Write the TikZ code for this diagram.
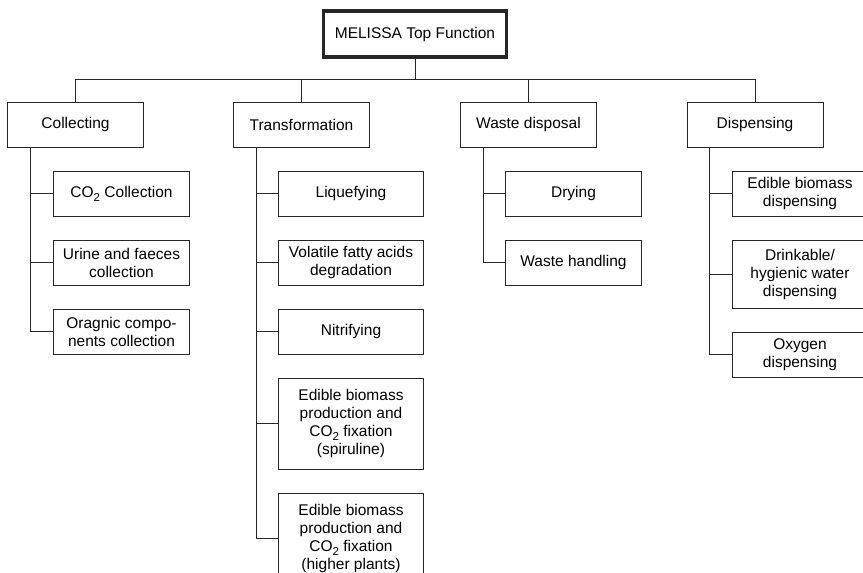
\documentclass[tikz,border=0pt]{standalone}
\usepackage{fontspec}
\setmainfont{Liberation Sans}
\usepackage{tikz}
\usetikzlibrary{positioning}

\newcommand{\cotwo}{CO\raisebox{-4pt}{\fontsize{11.5}{12}\selectfont 2}}

\tikzset{
  fbox/.style={draw=black!85, line width=1pt, minimum width=136pt, minimum height=45pt,
    align=center, inner sep=2pt, font=\fontsize{15.5}{18}\selectfont},
  topbox/.style={fbox, line width=3.5pt, minimum width=183pt, minimum height=46pt},
  widebox/.style={minimum width=145pt},
  link/.style={draw=black!85, line width=1pt},
}

\begin{document}
\begin{tikzpicture}[x=1pt, y=-1pt, node distance=23pt]
    \useasboundingbox (0,0) rectangle (863,573);
    \clip (0,0) rectangle (863,573);

    % Top function
    \node[topbox] (top) at (415,34) {MELISSA Top Function};
    \coordinate (bus) at (0,79);

    % Main functions
    \node[fbox] (coll)  at (75.5,124.5)  {Collecting};
    \node[fbox] (trans) at (301.5,124.5) {Transformation};
    \node[fbox] (waste) at (528.5,124.5) {Waste disposal};
    \node[fbox] (disp)  at (755,124.5)   {Dispensing};

    % Collecting
    \node[fbox, below=23pt of coll.south west, anchor=north west, xshift=46pt] (coll1) {\cotwo{} Collection};
    \node[fbox, below=of coll1] (coll2) {Urine and faeces\\collection};
    \node[fbox, below=of coll2] (coll3) {Oragnic compo-\\nents collection};

    % Transformation
    \node[fbox, widebox, below=23pt of trans.south west, anchor=north west, xshift=45pt] (trans1) {Liquefying};
    \node[fbox, widebox, below=of trans1] (trans2) {Volatile fatty acids\\degradation};
    \node[fbox, widebox, below=of trans2] (trans3) {Nitrifying};
    \node[fbox, widebox, minimum height=91pt, below=of trans3] (trans4) {Edible biomass\\production and\\\cotwo{} fixation\\(spiruline)};
    \node[fbox, widebox, minimum height=91pt, below=of trans4] (trans5) {Edible biomass\\production and\\\cotwo{} fixation\\(higher plants)};

    % Waste disposal
    \node[fbox, below=23pt of waste.south west, anchor=north west, xshift=45pt] (waste1) {Drying};
    \node[fbox, below=of waste1] (waste2) {Waste handling};

    % Dispensing
    \node[fbox, below=23pt of disp.south west, anchor=north west, xshift=45pt] (disp1) {Edible biomass\\dispensing};
    \node[fbox, minimum height=68pt, below=of disp1] (disp2) {Drinkable/\\hygienic water\\dispensing};
    \node[fbox, below=of disp2] (disp3) {Oxygen\\dispensing};

    % Bus from the top function
    \foreach \n in {coll, trans, waste, disp}
        \draw[link] (top.south) -- (top.south |- bus) -| (\n.north);

    % Sub-function trunks
    \foreach \p/\c in {coll/coll1, coll/coll2, coll/coll3,
                       trans/trans1, trans/trans2, trans/trans3, trans/trans4, trans/trans5,
                       waste/waste1, waste/waste2,
                       disp/disp1, disp/disp2, disp/disp3}
        \draw[link] ([xshift=23pt]\p.south west) |- (\c.west);
\end{tikzpicture}
\end{document}
